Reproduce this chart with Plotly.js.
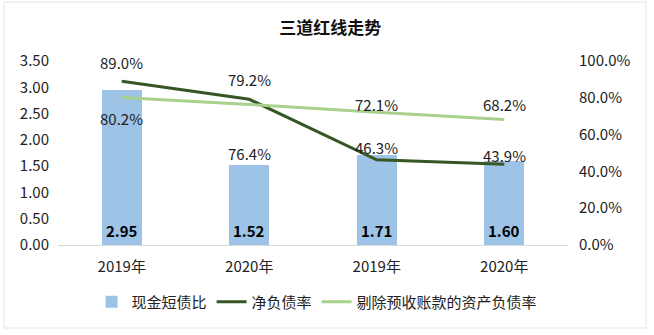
<!DOCTYPE html>
<html><head><meta charset="utf-8">
<script src="https://cdn.plot.ly/plotly-3.0.1.min.js"></script>
<style>html,body{margin:0;padding:0;background:#fff}#c{width:654px;height:335px}</style>
</head><body><div id="c"></div>
<script>
const categories = ['2019年','2020年','2019年','2020年'];
const cashRatio = [2.95, 1.52, 1.71, 1.60];
const netDebt = [0.890, 0.792, 0.463, 0.439];
const assetLiab = [0.802, 0.764, 0.721, 0.682];
const seriesNames = ['现金短债比','净负债率','剔除预收账款的资产负债率'];

const xs = categories.map((_, i) => i);
const netShift = [19, 20, 12, 9];
const alShift = [-21, -49, 8, 15];
const font = 'Noto Sans CJK SC, Noto Sans, sans-serif';

const traces = [
  {type:'bar', x: xs, y: cashRatio, name: seriesNames[0], marker:{color:'#9DC3E6'}, width:0.31, hoverinfo:'none'},
  {type:'scatter', mode:'lines', x: xs, y: netDebt, yaxis:'y2', name: seriesNames[1], line:{color:'#375623', width:3}, hoverinfo:'none'},
  {type:'scatter', mode:'lines', x: xs, y: assetLiab, yaxis:'y2', name: seriesNames[2], line:{color:'#A9D18E', width:3}, hoverinfo:'none'}
];

const ann = [];
xs.forEach((x, i) => {
  ann.push({x: x, y: 0, xref:'x', yref:'y', text: '<b>' + cashRatio[i].toFixed(2) + '</b>', showarrow:false, yshift:15, font:{size:15, color:'#000', family:font}});
  ann.push({x: x, y: netDebt[i], xref:'x', yref:'y2', text: (netDebt[i]*100).toFixed(1) + '%', showarrow:false, yshift:netShift[i], font:{size:15, color:'#222', family:font}});
  ann.push({x: x, y: assetLiab[i], xref:'x', yref:'y2', text: (assetLiab[i]*100).toFixed(1) + '%', showarrow:false, yshift:alShift[i], font:{size:15, color:'#222', family:font}});
});

const layout = {
  width:654, height:335,
  margin:{l:58, r:86, t:61, b:90, autoexpand:false},
  paper_bgcolor:'#fff', plot_bgcolor:'#fff',
  font:{family:font, size:15, color:'#222'},
  title:{text:'<b>三道红线走势</b>', x:0.505, xref:'container', xanchor:'center', y:0.915, yref:'container', yanchor:'middle', font:{size:17, color:'#111', family:font}},
  xaxis:{range:[-0.5,3.5], tickvals: xs, ticktext: categories, tickangle:0, automargin:false, showgrid:false, zeroline:false, showline:true, linecolor:'#D9D9D9', linewidth:1, ticks:'', ticklabelstandoff:8, tickfont:{size:15, color:'#222'}},
  yaxis:{range:[0,3.5], dtick:0.5, tickformat:'.2f', automargin:false, showgrid:false, zeroline:false, showline:false, ticks:'', ticklabelstandoff:8, tickfont:{size:15, color:'#222'}},
  yaxis2:{range:[0,1], dtick:0.2, tickformat:'.1%', automargin:false, overlaying:'y', side:'right', showgrid:false, zeroline:false, showline:false, ticks:'', ticklabelstandoff:10, tickfont:{size:15, color:'#222'}},
  showlegend:true,
  legend:{orientation:'h', x:0.508, xanchor:'center', y:-0.31, yanchor:'middle', font:{size:15, color:'#222'}, bgcolor:'rgba(0,0,0,0)'},
  bargap:0,
  annotations: ann,
  shapes:[{type:'rect', xref:'paper', yref:'paper', x0:(4-58)/510, x1:(646-58)/510, y0:(245-328)/184, y1:(245-2)/184, line:{color:'#E3E3E3', width:1}, fillcolor:'rgba(0,0,0,0)'}]
};

Plotly.newPlot('c', traces, layout, {staticPlot:true});
</script></body></html>
